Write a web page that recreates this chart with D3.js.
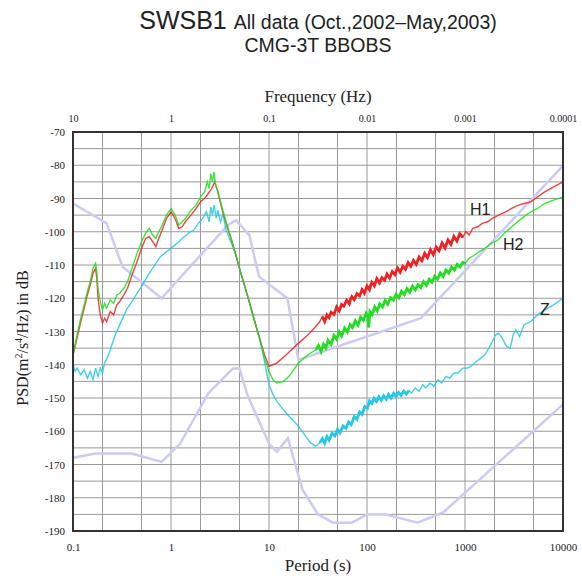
<!DOCTYPE html>
<html>
<head>
<meta charset="utf-8">
<script src="https://cdn.jsdelivr.net/npm/d3@7"></script>
<style>
  body { margin: 0; background: #fff; }
  svg { display: block; }
</style>
</head>
<body>
<figure style="margin:0"></figure>
<script>
// period (s) ticks on the bottom, frequency (Hz) ticks on top
const periodTicks = [0.1, 1, 10, 100, 1000, 10000];
const periodLabels = ["0.1", "1", "10", "100", "1000", "10000"];
const freqTicks = [10, 1, 0.1, 0.01, 0.001, 0.0001];
const freqLabels = ["10", "1", "0.1", "0.01", "0.001", "0.0001"];
const dbTicks = [-70, -80, -90, -100, -110, -120, -130, -140, -150, -160, -170, -180, -190];

// Peterson high / low noise models [period, dB]
const nhnm = [
  [0.1, -91.5], [0.22, -97.4], [0.32, -110.5], [0.8, -120.0], [3.8, -98.0],
  [4.6, -96.5], [6.3, -101.0], [7.9, -113.5], [15.4, -120.0], [20, -138.5],
  [354.8, -126.0], [10000, -80.1]
];
const nlnm = [
  [0.1, -168.0], [0.17, -166.7], [0.4, -166.7], [0.8, -169.2], [1.24, -163.7],
  [2.4, -148.6], [4.3, -141.1], [5.0, -141.1], [6.0, -149.0], [10, -163.7],
  [12, -166.2], [15.6, -162.1], [21.9, -177.5], [31.6, -185.0], [45, -187.5],
  [70, -187.5], [101, -185.0], [154, -185.0], [328, -187.5], [600, -184.4],
  [10000, -151.9]
];

// H1 component [period, dB]
const h1 = [
  [0.1,-137],[0.11,-132],[0.12,-127],[0.13,-123],[0.14,-119],[0.15,-116],[0.16,-112.5],[0.17,-111],
  [0.175,-114],[0.18,-120],[0.19,-125],[0.2,-127.5],[0.21,-126],[0.22,-127],[0.24,-124],[0.26,-125],
  [0.28,-122],[0.3,-121],[0.33,-119],[0.36,-117],[0.4,-113],[0.45,-109],[0.5,-105],[0.55,-102],
  [0.6,-101.5],[0.65,-103],[0.7,-104.5],[0.75,-102],[0.8,-100],[0.9,-96],[1.0,-94],[1.1,-96],
  [1.2,-99],[1.3,-98.5],[1.4,-97],[1.6,-95],[1.8,-93],[2.0,-91],[2.2,-90],[2.4,-88.5],[2.6,-87],
  [2.8,-85],[3.0,-88],[3.3,-93],[3.7,-98],[4.2,-103],[5,-111],[6,-119],[7,-126],[8,-132],[9,-137],
  [10,-140.5],[11,-140],[12,-139.5],[15,-137],[20,-133.5],[25,-131],[30,-128.5],[33,-127],
  [35,-125.5],[37,-127],[39,-125],[41,-125.8],[43,-124.2],[46,-124.9],[48,-123.4],[49,-122.6],
  [52,-123.8],[55,-121.9],[58,-122.4],[62,-120.6],[66,-121.7],[68,-120.2],[70,-119.5],[74,-120.4],
  [79,-118.6],[84,-119.3],[89,-117.4],[94,-118.5],[100,-116.3],[106,-117.4],[109,-116.1],
  [112,-115.2],[119,-116.3],[126,-114.1],[134,-115.4],[142,-113.8],[151,-114.6],[160,-112.7],
  [170,-113.9],[181,-112],[193,-112.9],[198,-111.9],[205,-110.9],[218,-112.2],[232,-110.4],
  [247,-111.3],[263,-109.3],[280,-110.4],[298,-108.6],[318,-109.8],[340,-107.6],[363,-108.7],
  [388,-106.5],[415,-107.8],[444,-105.4],[475,-106.9],[508,-104.6],[544,-105.7],[583,-103.4],
  [625,-104.9],[670,-102.5],[718,-103.8],[770,-101.4],[826,-102.8],[886,-100.6],[950,-101.7],
  [1020,-99.9],[1100,-101],[1200,-99],[1350,-98.5],[1500,-97.5],[1700,-97],[1900,-96],[2200,-95],
  [2600,-94],[3000,-93],[3500,-92],[4000,-91.5],[4700,-91],[5500,-89.5],[6500,-88],[8000,-86.5],
  [10000,-85]
];

// H2 component
const h2 = [
  [0.1,-137],[0.11,-131],[0.12,-126],[0.13,-122],[0.14,-118],[0.15,-115],[0.16,-111],[0.17,-109.5],
  [0.175,-112],[0.18,-117],[0.19,-121],[0.2,-123.5],[0.21,-121.5],[0.22,-123],[0.24,-120.5],
  [0.26,-121.5],[0.28,-119],[0.3,-118.5],[0.33,-117],[0.36,-115],[0.4,-111],[0.45,-106.5],
  [0.5,-103],[0.55,-100.5],[0.6,-99],[0.65,-101],[0.7,-102],[0.75,-100],[0.8,-98.5],[0.9,-95],
  [1.0,-93],[1.1,-95],[1.2,-98],[1.3,-97],[1.4,-96],[1.6,-93.5],[1.8,-92],[2.0,-89.5],[2.2,-88],
  [2.35,-85],[2.45,-87],[2.55,-82.5],[2.65,-85],[2.75,-82],[2.85,-86],[3.0,-87.5],[3.3,-92.5],
  [3.7,-97.5],[4.2,-103],[5,-111],[6,-119],[7,-126],[8,-132],[9,-138],[10,-142],[11,-144.5],
  [12,-145.5],[14,-145],[16,-143.5],[20,-139.5],[25,-137],[30,-135.5],
  [32,-134.2],[34,-136],[36,-133.8],[38,-134.9],[40,-132.6],[43,-133.9],[46,-131.2],[49,-132.3],
  [52,-130.1],[55,-131.4],[57,-130.3],[59,-129],[63,-130.2],[67,-127.9],[71,-128.8],[76,-126.8],
  [81,-128.1],[86,-125.7],[92,-126.6],[98,-124.5],[102,-125.6],[104,-128.8],[107,-124],
  [113,-124.9],[120,-122.6],[127,-123.8],[135,-121.7],[144,-122.6],[153,-120.6],[163,-121.8],
  [174,-119.8],[186,-120.6],[198,-118.8],[211,-119.9],[225,-117.9],[240,-118.9],[256,-117.1],
  [273,-118.2],[291,-116.4],[311,-117.5],[332,-115.9],[354,-116.8],[378,-115],[404,-116.1],
  [431,-114.3],[460,-115.2],[491,-113.4],[524,-114.3],[560,-112.4],[598,-113.4],[639,-111.5],
  [683,-112.4],[730,-110.6],[780,-111.5],[834,-109.8],[890,-110.6],[950,-109.2],[1000,-109.6],
  [1100,-108],[1250,-107],[1400,-106],[1600,-105],[1850,-103.5],[2160,-102.5],[2500,-100.5],
  [3000,-98.5],[3600,-96.5],[4200,-95],[4700,-94],[5500,-93],[6500,-91.5],[8000,-90.5],[10000,-89.5]
];

// Z component
const zc = [
  [0.1,-140],[0.105,-142],[0.11,-141],[0.12,-143],[0.13,-141.5],[0.14,-144],[0.15,-142],
  [0.16,-144.5],[0.17,-141],[0.18,-143.5],[0.19,-141],[0.2,-142.5],[0.21,-139.5],[0.22,-138.5],
  [0.24,-135.5],[0.27,-131],[0.3,-128],[0.35,-123.5],[0.4,-121],[0.45,-118.5],[0.5,-116.5],
  [0.6,-112.5],[0.7,-109.5],[0.78,-107.5],[0.9,-106],[1.0,-105],[1.15,-103.5],[1.3,-102],
  [1.5,-100.5],[1.7,-99.5],[1.9,-97.5],[2.1,-96],[2.3,-94],[2.45,-97],[2.55,-92.5],[2.65,-95],
  [2.75,-92],[2.9,-96],[3.0,-93.5],[3.2,-97],[3.4,-94.5],[3.6,-99],[4.0,-102.5],[4.5,-106],
  [5,-111],[6,-119],[7,-126],[8,-132],[9,-139],[10,-146],[11,-149],[12,-151],[14,-153.5],
  [16,-155.5],[20,-158.5],[23,-161],[26.5,-163.5],[30,-164.5],[33,-163.5],
  [35,-162.2],[37,-163.6],[39,-161.6],[41,-162.7],[44,-160.6],[47,-161.4],[50,-159.4],[53,-160.5],
  [57,-158.4],[61,-159.1],[65,-157.2],[69,-158],[74,-155.6],[79,-156.4],[84,-154.2],[89,-154.9],
  [95,-152.6],[101,-153.1],[106,-150.9],[112,-151.6],[118,-150.1],[125,-151],[132,-149.6],
  [140,-150.7],[148,-149.3],[157,-150.4],[166,-148.9],[176,-150],[187,-148.6],[198,-149.6],
  [210,-148.3],[223,-149.2],[237,-147.9],[252,-148.8],[268,-147.8],
  [285,-148.5],[310,-147],[340,-148],[370,-146],[400,-147],[440,-145.5],[480,-146.5],[530,-144.5],
  [580,-145.5],[640,-143.5],[700,-144],[770,-142.5],[850,-142.5],[950,-141],[1050,-141],
  [1145,-140.5],[1300,-139],[1450,-138],[1600,-137],[1750,-135],[1900,-133],[2050,-131],
  [2200,-130.5],[2400,-132],[2650,-134.5],[2900,-135],[3100,-131],[3300,-129.5],[3600,-131.5],
  [4000,-128],[4700,-127],[5500,-125],[6500,-123.5],[8000,-122],[10000,-120]
];

const W = 582, H = 576;
const plot = { left: 73, right: 563, top: 132, bottom: 531 };

const svg = d3.select("figure")
  .append("svg")
  .attr("width", W)
  .attr("height", H);

const x = d3.scaleLog().domain([0.1, 10000]).range([plot.left, plot.right]);
const xf = d3.scaleLog().domain([10, 0.0001]).range([plot.left, plot.right]);
const y = d3.scaleLinear().domain([-190, -70]).range([plot.bottom, plot.top]);

// grid: 1,2,5 per decade and every 5 dB
const vGrid = [];
for (let e = -1; e < 4; e++) [1, 2, 5].forEach(m => vGrid.push(m * Math.pow(10, e)));
vGrid.push(10000);
const hGrid = d3.range(-190, -69, 5);

svg.append("g")
  .selectAll("line")
  .data(vGrid)
  .enter()
  .append("line")
  .attr("x1", d => x(d)).attr("x2", d => x(d))
  .attr("y1", plot.top).attr("y2", plot.bottom)
  .attr("stroke", "#9a9a9a")
  .attr("stroke-width", 1);

svg.append("g")
  .selectAll("line")
  .data(hGrid)
  .enter()
  .append("line")
  .attr("x1", plot.left).attr("x2", plot.right)
  .attr("y1", d => y(d)).attr("y2", d => y(d))
  .attr("stroke", "#9a9a9a")
  .attr("stroke-width", 1);

const line = d3.line()
  .x(d => x(d[0]))
  .y(d => y(d[1]));

// noise models
[nhnm, nlnm].forEach(m => {
  svg.append("path")
    .datum(m)
    .attr("d", line)
    .attr("fill", "none")
    .attr("stroke", "#cbcbf3")
    .attr("stroke-width", 2.5);
});

// data series; the dense middle part of each is drawn thicker
const series = [
  { data: zc, color: "#22c8e6", band: [33, 270] },
  { data: h1, color: "#ee2222", band: [35, 1000] },
  { data: h2, color: "#22dd22", band: [30, 1000] }
];
series.forEach(s => {
  svg.append("path")
    .datum(s.data)
    .attr("d", line)
    .attr("fill", "none")
    .attr("stroke", s.color)
    .attr("stroke-width", 1.4)
    .attr("stroke-opacity", 0.85);
  svg.append("path")
    .datum(s.data.filter(d => d[0] >= s.band[0] && d[0] <= s.band[1]))
    .attr("d", line)
    .attr("fill", "none")
    .attr("stroke", s.color)
    .attr("stroke-width", 2.8);
});

// frame
svg.append("rect")
  .attr("x", plot.left).attr("y", plot.top)
  .attr("width", plot.right - plot.left)
  .attr("height", plot.bottom - plot.top)
  .attr("fill", "none")
  .attr("stroke", "#333")
  .attr("stroke-width", 2);

// axes
const serif = "'Liberation Serif', 'DejaVu Serif', serif";
const sans = "'Liberation Sans', Arial, sans-serif";

const bottomAxis = svg.append("g")
  .attr("transform", "translate(0," + plot.bottom + ")")
  .call(d3.axisBottom(x).tickValues(periodTicks)
    .tickFormat((d, i) => periodLabels[i]).tickSize(0).tickPadding(12));
const topAxis = svg.append("g")
  .attr("transform", "translate(0," + plot.top + ")")
  .call(d3.axisTop(xf).tickValues(freqTicks)
    .tickFormat((d, i) => freqLabels[i]).tickSize(0).tickPadding(10));
const leftAxis = svg.append("g")
  .attr("transform", "translate(" + plot.left + ",0)")
  .call(d3.axisLeft(y).tickValues(dbTicks).tickFormat(d => String(d)).tickSize(0).tickPadding(8));

[bottomAxis, topAxis, leftAxis].forEach(a => {
  a.select(".domain").remove();
  a.selectAll("text")
    .attr("font-family", serif)
    .attr("font-size", 11)
    .attr("fill", "#222");
});
topAxis.selectAll("text").attr("font-size", 10);

// curve labels
[["H1", 470, 215], ["H2", 503, 250], ["Z", 540, 315]].forEach(l => {
  svg.append("text")
    .attr("x", l[1]).attr("y", l[2])
    .attr("font-family", sans)
    .attr("font-size", 16)
    .attr("fill", "#222")
    .text(l[0]);
});

// titles
const title = svg.append("text")
  .attr("x", 318).attr("y", 29)
  .attr("text-anchor", "middle")
  .attr("font-family", sans)
  .attr("fill", "#222");
title.append("tspan").attr("font-size", 25).text("SWSB1 ");
title.append("tspan").attr("font-size", 19.5).text("All data (Oct.,2002\u2013May,2003)");

svg.append("text")
  .attr("x", 318).attr("y", 52)
  .attr("text-anchor", "middle")
  .attr("font-family", sans)
  .attr("font-size", 19.5)
  .attr("fill", "#222")
  .text("CMG-3T BBOBS");

svg.append("text")
  .attr("x", 318).attr("y", 102)
  .attr("text-anchor", "middle")
  .attr("font-family", serif)
  .attr("font-size", 17)
  .attr("fill", "#222")
  .text("Frequency (Hz)");

svg.append("text")
  .attr("x", 318).attr("y", 571)
  .attr("text-anchor", "middle")
  .attr("font-family", serif)
  .attr("font-size", 17)
  .attr("fill", "#222")
  .text("Period (s)");

const ylab = svg.append("text")
  .attr("transform", "translate(28,338) rotate(-90)")
  .attr("text-anchor", "middle")
  .attr("font-family", serif)
  .attr("font-size", 16)
  .attr("fill", "#222");
ylab.append("tspan").text("PSD(m");
ylab.append("tspan").attr("font-size", 10).attr("dy", -6).text("2");
ylab.append("tspan").attr("dy", 6).text("/s");
ylab.append("tspan").attr("font-size", 10).attr("dy", -6).text("4");
ylab.append("tspan").attr("dy", 6).text("/Hz) in dB");
</script>
</body>
</html>
